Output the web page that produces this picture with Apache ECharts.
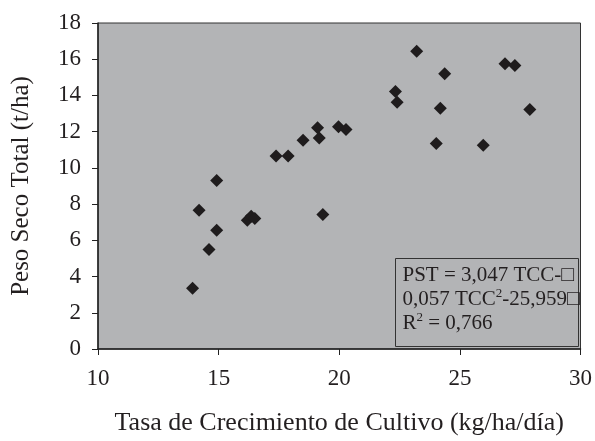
<!DOCTYPE html>
<html>
<head>
    <meta charset="utf-8">
    <title>PST vs TCC</title>
    <script src="https://cdn.jsdelivr.net/npm/echarts@6/dist/echarts.min.js"></script>
</head>
<body style="margin:0">
    <div id="main" style="width:595px;height:441px;"></div>
    <script type="text/javascript">
        // tasa de crecimiento de cultivo (kg/ha/dia)
        var tcc = [13.92, 14.19, 14.6, 14.92, 14.92, 16.19, 16.35, 16.5, 17.38, 17.88,
                   18.5, 19.1, 19.17, 19.32, 19.97, 20.28, 22.33, 22.4, 23.21, 24.19,
                   24.37, 24.02, 25.97, 26.87, 27.28, 27.9];
        // peso seco total (t/ha)
        var pst = [3.35, 7.66, 5.5, 9.3, 6.56, 7.11, 7.33, 7.2, 10.65, 10.65,
                   11.52, 12.22, 11.65, 7.42, 12.27, 12.12, 14.22, 13.62, 16.44, 13.29,
                   15.2, 11.34, 11.25, 15.75, 15.66, 13.22];

        var pts = [];
        for (var i = 0; i < tcc.length; i++) {
            pts.push([tcc[i], pst[i]]);
        }

        var font = 'Liberation Serif';
        var ink = '#231f20';

        var myChart = echarts.init(document.getElementById('main'));
        var option = {
            animation: false,
            textStyle: { fontFamily: font, color: ink },
            grid: {
                left: 98, right: 12, top: 23, bottom: 89,
                show: true,
                backgroundColor: '#b3b4b6',
                borderColor: '#333',
                borderWidth: 1
            },
            xAxis: {
                type: 'value',
                min: 10, max: 30, interval: 5,
                name: 'Tasa de Crecimiento de Cultivo (kg/ha/día)',
                nameLocation: 'middle',
                nameGap: 61,
                nameTextStyle: { fontFamily: font, fontSize: 26, color: ink },
                axisLine: { lineStyle: { color: '#222', width: 1.5 } },
                axisTick: { length: 6, lineStyle: { color: '#222' } },
                axisLabel: { fontFamily: font, fontSize: 23, color: ink, margin: 18 },
                splitLine: { show: false }
            },
            yAxis: {
                type: 'value',
                min: 0, max: 18, interval: 2,
                name: 'Peso Seco Total (t/ha)',
                nameLocation: 'middle',
                nameGap: 64,
                nameTextStyle: { fontFamily: font, fontSize: 25, color: ink },
                axisLine: { show: true, lineStyle: { color: '#222', width: 1.5 } },
                axisTick: { show: true, length: 6, lineStyle: { color: '#222' } },
                axisLabel: { fontFamily: font, fontSize: 23, color: ink, margin: 17 },
                splitLine: { show: false }
            },
            series: [{
                type: 'scatter',
                symbol: 'diamond',
                symbolSize: 13,
                itemStyle: { color: '#1f1c1d', opacity: 1 },
                data: pts
            }],
            graphic: [{
                type: 'group',
                left: 395, top: 258,
                children: [{
                    type: 'rect',
                    shape: { x: 0, y: 0, width: 183, height: 88 },
                    style: { fill: 'transparent', stroke: '#333', lineWidth: 1 }
                }, {
                    type: 'text',
                    left: 7, top: 5,
                    style: {
                        text: 'PST = 3,047 TCC-□\n0,057 TCC{s|2}-25,959□\nR{s|2} = 0,766',
                        font: '21px "Liberation Serif"',
                        fill: ink,
                        lineHeight: 24,
                        rich: {
                            s: { fontSize: 13, fontFamily: font, fill: ink, verticalAlign: 'top', padding: [0, 0, 8, 0] }
                        }
                    }
                }]
            }]
        };
        myChart.setOption(option);
    </script>
</body>
</html>
